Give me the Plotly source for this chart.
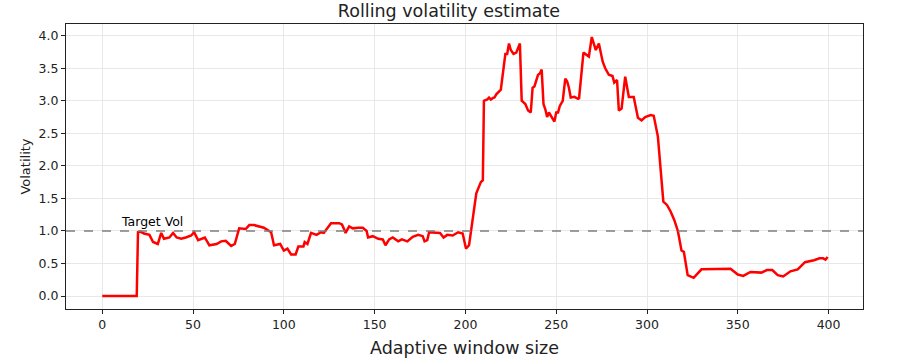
import plotly.graph_objects as go

window = [0, 19, 19.7, 21, 23, 26, 28, 30.6, 32.5, 34, 37, 39, 41, 43.5, 46, 49, 50.6, 52.8, 56.5, 59, 63,
          65.5, 68, 71, 73, 75.4, 79, 81, 83.6, 86, 89, 93, 94.6, 98, 100, 102, 104, 106.5, 108, 110.8,
          111.5, 113, 115, 118, 120.5, 122, 124, 126, 130.5, 132, 133, 134, 136, 138, 141, 143.5, 145.6,
          146.4, 149, 152, 154.5, 156, 158, 160, 163, 165, 168, 171, 174, 176.5, 177.5, 179, 180, 183,
          186, 188, 190, 193, 196, 198.5, 200.3, 202, 204, 206, 208.5, 209.6, 210.2, 212, 213, 214, 215,
          216, 217, 218, 219.5, 221, 222, 223, 224, 225, 226.5, 228, 229, 230, 231, 233, 234.5, 236,
          237, 238, 240, 241, 242, 243, 244, 245, 246, 248, 249, 250, 251, 252, 253.6, 255, 256, 257,
          258, 260, 262, 262.6, 265, 268, 269.6, 271.8, 273.5, 275.6, 277, 279, 281, 282, 283.5, 284.5,
          286, 288, 290, 292.7, 295, 297, 299, 302, 303.7, 306, 309, 311, 313, 315, 317, 319, 320.3,
          322.4, 325.7, 330, 335, 340, 342, 346, 350, 353, 357, 361, 363, 366, 369, 372, 375, 379,
          383, 387, 392, 395, 397, 398.3, 399.5]
volatility = [0, 0, 0.98, 0.99, 0.96, 0.94, 0.83, 0.8, 0.97, 0.88, 0.9, 0.97, 0.9, 0.88, 0.9, 0.93, 0.98,
              0.86, 0.9, 0.78, 0.8, 0.84, 0.85, 0.77, 0.8, 1.04, 1.03, 1.09, 1.09, 1.07, 1.05, 0.98, 0.78,
              0.8, 0.7, 0.73, 0.64, 0.64, 0.76, 0.76, 0.83, 0.8, 0.97, 0.94, 0.98, 0.97, 1.04, 1.12, 1.12,
              1.1, 1.04, 0.97, 1.07, 1.04, 1.05, 1.05, 1.0, 0.9, 0.92, 0.88, 0.87, 0.78, 0.87, 0.9, 0.84,
              0.87, 0.84, 0.91, 0.94, 0.92, 0.84, 0.86, 0.98, 0.97, 0.97, 0.9, 0.94, 0.93, 0.98, 0.96,
              0.73, 0.78, 1.2, 1.58, 1.75, 1.78, 3.0, 3.02, 3.05, 3.02, 3.04, 3.05, 3.1, 3.13, 3.17, 3.5,
              3.72, 3.72, 3.88, 3.78, 3.72, 3.74, 3.82, 3.88, 3.0, 2.95, 2.85, 2.82, 3.2, 3.22, 3.4, 3.42,
              3.48, 2.95, 2.87, 2.75, 2.82, 2.72, 2.68, 2.82, 2.82, 2.92, 3.0, 3.34, 3.3, 3.2, 3.05, 3.06,
              3.03, 3.04, 3.74, 3.68, 3.98, 3.78, 3.88, 3.6, 3.5, 3.4, 3.38, 3.28, 3.32, 2.85, 2.88, 3.37,
              3.06, 3.06, 2.74, 2.7, 2.75, 2.78, 2.77, 2.45, 1.45, 1.4, 1.3, 1.17, 1.0, 0.7, 0.68, 0.32,
              0.28, 0.41, 0.41, 0.42, 0.42, 0.42, 0.33, 0.31, 0.37, 0.36, 0.36, 0.4, 0.4, 0.32, 0.3, 0.38,
              0.41, 0.52, 0.55, 0.58, 0.58, 0.56, 0.6, 0.55]

target_vol = 1.0
x_ticks = [0, 50, 100, 150, 200, 250, 300, 350, 400]
y_ticks = [0.0, 0.5, 1.0, 1.5, 2.0, 2.5, 3.0, 3.5, 4.0]

fig = go.Figure()
fig.add_trace(go.Scatter(x=window, y=volatility, mode="lines",
                         line=dict(color="#ff0000", width=2.5), showlegend=False))
fig.add_hline(y=target_vol, line=dict(color="#7f7f7f", width=1.6, dash="dash"))
fig.add_annotation(x=9.5, y=target_vol + 0.15, text="Target Vol", showarrow=False,
                   xanchor="left", yanchor="middle", font=dict(size=12.5, color="black"))

axis_common = dict(showline=True, linecolor="#222222", linewidth=1, mirror=True,
                   showgrid=True, gridcolor="#e8e8e8", gridwidth=1, zeroline=False,
                   ticks="outside", ticklen=4, tickcolor="#222222", automargin=False,
                   tickfont=dict(size=12.5, color="#222222"))
fig.update_xaxes(range=[-19.95, 418.95], tickvals=x_ticks,
                 ticktext=[str(v) for v in x_ticks],
                 title=dict(text="Adaptive window size", font=dict(size=17.5, color="#222222"), standoff=20),
                 **axis_common)
fig.update_yaxes(range=[-0.199, 4.18], tickvals=y_ticks,
                 ticktext=[f"{v:.1f}" for v in y_ticks],
                 title=dict(text="Volatility", font=dict(size=13, color="#222222"), standoff=5),
                 **axis_common)
fig.update_layout(
    width=898, height=358,
    margin=dict(l=66, r=35, t=24, b=49),
    paper_bgcolor="white", plot_bgcolor="white",
    font=dict(family="DejaVu Sans", color="#222222"),
    title=dict(text="Rolling volatility estimate", x=0.5, xanchor="center",
               y=1 - 11 / 358, yanchor="middle", font=dict(size=17.5, color="#222222")),
)
fig.write_html("out.html", config={"displayModeBar": False},
               post_script="document.body.style.margin='0';")
